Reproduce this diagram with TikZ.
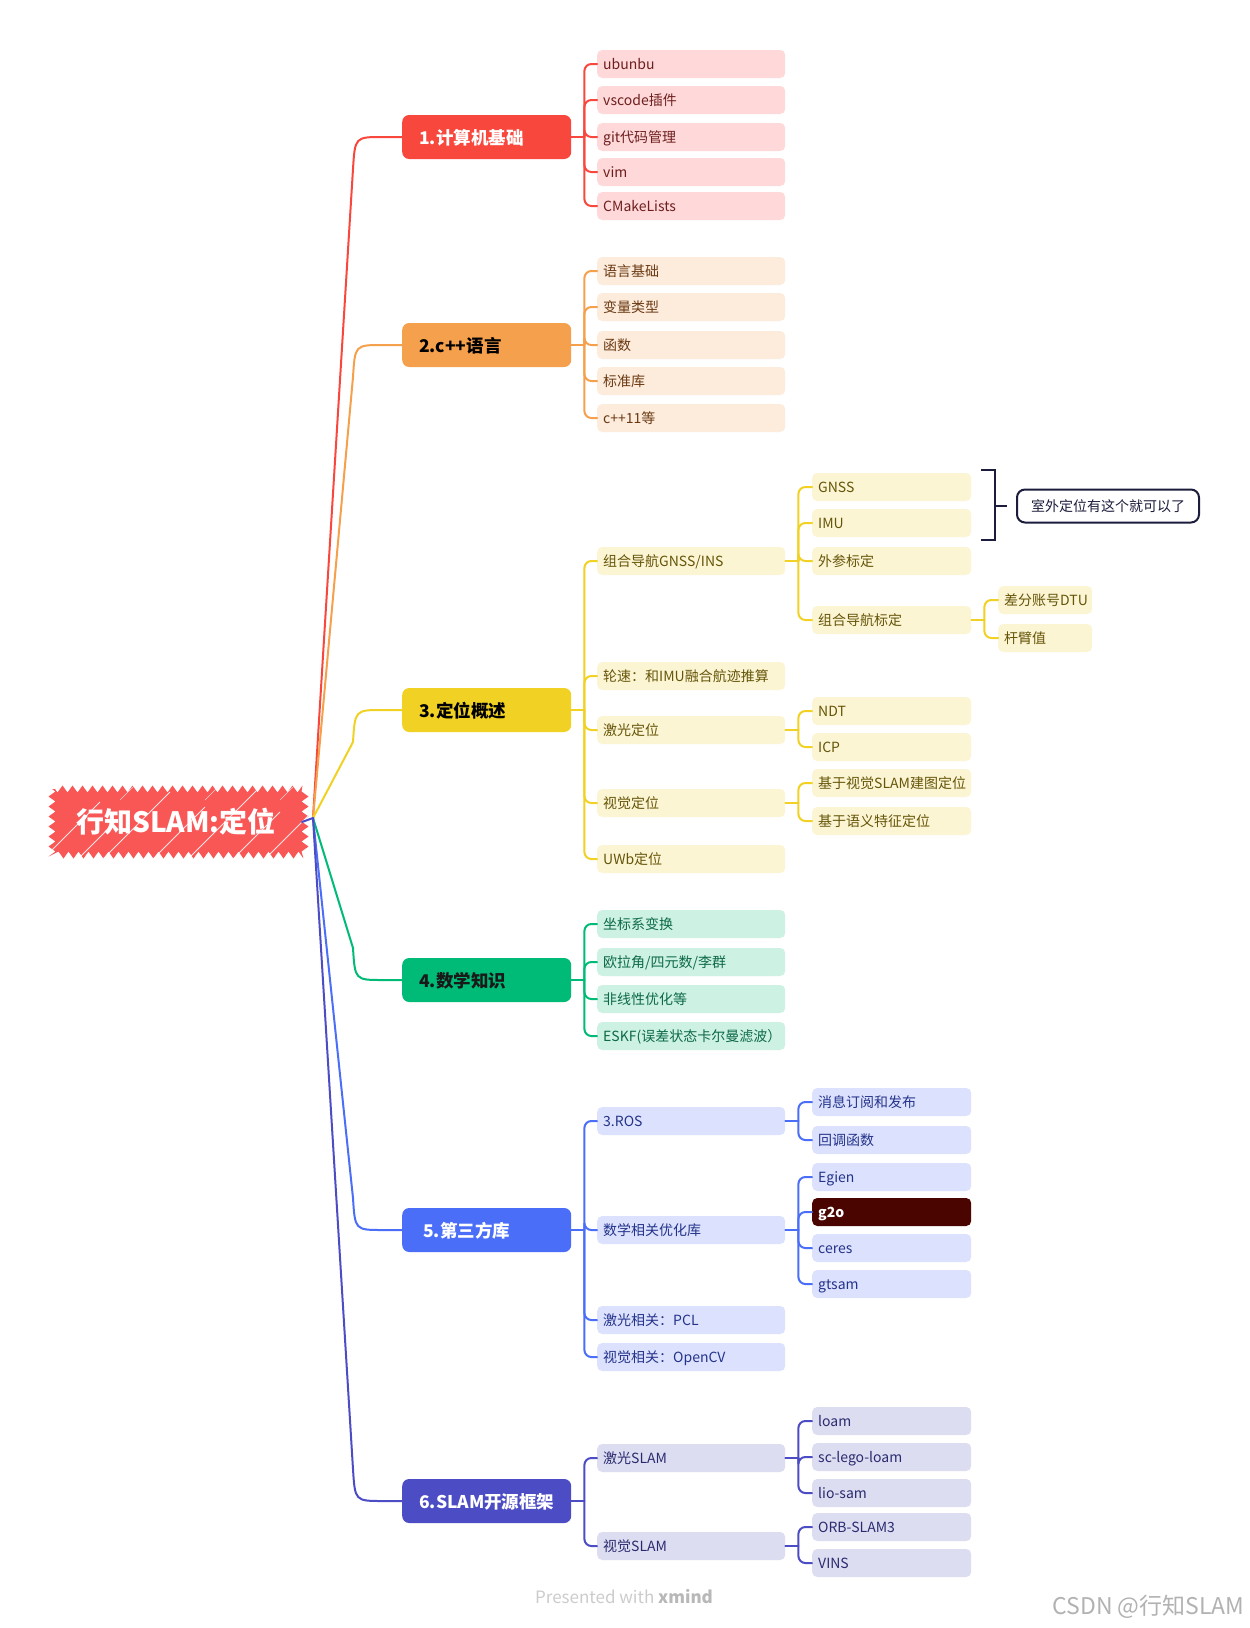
\documentclass[tikz,border=0pt]{standalone}
\usepackage{fontspec}
\setmainfont{Noto Sans CJK SC}
\usetikzlibrary{calc,decorations.pathmorphing}
\definecolor{cR}{HTML}{F8473C}\definecolor{fR}{HTML}{FFD9D9}\definecolor{tR}{HTML}{6E1E1E}
\definecolor{cO}{HTML}{F5A04C}\definecolor{fO}{HTML}{FDEBDC}\definecolor{tO}{HTML}{6A3A12}
\definecolor{cY}{HTML}{F1D224}\definecolor{fY}{HTML}{FCF5D4}\definecolor{tY}{HTML}{655508}
\definecolor{cG}{HTML}{00BA77}\definecolor{fG}{HTML}{CDF1E3}\definecolor{tG}{HTML}{0D6A47}
\definecolor{cB}{HTML}{4B6EF8}\definecolor{fB}{HTML}{DCE2FE}\definecolor{tB}{HTML}{24338A}
\definecolor{cI}{HTML}{4C4CC4}\definecolor{fI}{HTML}{DDDDF2}\definecolor{tI}{HTML}{2A2B6E}
\definecolor{navy}{HTML}{1C1C3C}\definecolor{rootred}{HTML}{F95656}
\definecolor{gmaroon}{HTML}{4A0500}
\newcommand\kidfont{\fontsize{14}{16}\selectfont}
\newcommand\brfont{\bfseries\fontsize{17.5}{20}\selectfont}
\tikzset{
  kid/.style={rounded corners=5, minimum height=28, inner xsep=6, inner ysep=0,
    anchor=west, align=left, text height=12, text depth=2, font=\kidfont},
  lone/.style={kid, text width=176},
  ltwo/.style={kid, text width=147},
  lthree/.style={kid, text width=82},
  br/.style={rounded corners=7, minimum height=44, inner xsep=17, inner ysep=0,
    anchor=west, text width=135, align=left, font=\brfont, text height=16, text depth=2},
  kR/.style={fill=fR, text=tR}, kO/.style={fill=fO, text=tO}, kY/.style={fill=fY, text=tY},
  kG/.style={fill=fG, text=tG}, kB/.style={fill=fB, text=tB}, kI/.style={fill=fI, text=tI},
  conn/.style={line width=2, line cap=round},
}
\newcommand\mainlink[3]{%
  \draw[conn,#1] (O) -- ($(#2.west)+(-49,#3)$) .. controls ($(#2.west)+(-47,0)$) .. ($(#2.west)+(-19,0)$) -- (#2.west);}
\newcommand\stem[2]{\draw[conn,#1] (#2.east) -- ++(13,0);}
\newcommand\sublink[3]{\draw[conn,#1,rounded corners=7] ($(#2.east)+(13,0)$) |- (#3.west);}
\begin{document}
\begin{tikzpicture}[x=1pt,y=-1pt]
\useasboundingbox (0,0) rectangle (1250,1628);
\fill[white] (0,0) rectangle (1250,1628);

% root
\fill[rootred, decorate, decoration={zigzag, segment length=10, amplitude=3.5}] (52,789) rectangle (305,855);
\begin{scope}
\clip (49,785) rectangle (309,859);
\foreach \x/\l in {40/60, 75/40, 100/70, 150/55, 185/75, 230/50, 262/70, 300/45, 330/60}
  \draw[white, line width=0.8, opacity=0.85] (\x,862) -- ++(\l,-\l);
\foreach \x/\l in {120/30, 205/35, 280/30}
  \draw[white, line width=0.6, opacity=0.7] (\x,800) -- ++(\l,-\l);
\end{scope}
\node[text=white, font=\bfseries\fontsize{28}{30}\selectfont] (root) at (176,822) {行知SLAM:定位};
\coordinate (O) at (313,818);

% main branches
\node[br, fill=cR, text=white] (b1) at (402,137) {1.计算机基础};
\node[br, fill=cO, text=black] (b2) at (402,345) {2.c++语言};
\node[br, fill=cY, text=black] (b3) at (402,710) {3.定位概述};
\node[br, fill=cG, text=black!90] (b4) at (402,980) {4.数学知识};
\node[br, fill=cB, text=white] (b5) at (402,1230) {\hspace{4pt}5.第三方库};
\node[br, fill=cI, text=white] (b6) at (402,1501) {6.SLAM开源框架};

\mainlink{cR}{b1}{32}
\mainlink{cO}{b2}{32}
\mainlink{cY}{b3}{32}
\mainlink{cG}{b4}{-32}
\mainlink{cB}{b5}{-32}
\mainlink{cI}{b6}{-32}
\draw[conn,cI] (root.east -| 302,818) -- (O);

% branch 1
\node[lone,kR] (r1) at (597,64) {ubunbu};
\node[lone,kR] (r2) at (597,100) {vscode插件};
\node[lone,kR] (r3) at (597,137) {git代码管理};
\node[lone,kR] (r4) at (597,172) {vim};
\node[lone,kR] (r5) at (597,206) {CMakeLists};
\stem{cR}{b1}
\foreach \n in {r1,r2,r3,r4,r5} {\sublink{cR}{b1}{\n}}

% branch 2
\node[lone,kO] (o1) at (597,271) {语言基础};
\node[lone,kO] (o2) at (597,307) {变量类型};
\node[lone,kO] (o3) at (597,345) {函数};
\node[lone,kO] (o4) at (597,381) {标准库};
\node[lone,kO] (o5) at (597,418) {c++11等};
\stem{cO}{b2}
\foreach \n in {o1,o2,o3,o4,o5} {\sublink{cO}{b2}{\n}}

% branch 3
\node[lone,kY] (y1) at (597,561) {组合导航GNSS/INS};
\node[lone,kY] (y2) at (597,676) {轮速：和IMU融合航迹推算};
\node[lone,kY] (y3) at (597,730) {激光定位};
\node[lone,kY] (y4) at (597,803) {视觉定位};
\node[lone,kY] (y5) at (597,859) {UWb定位};
\stem{cY}{b3}
\foreach \n in {y1,y2,y3,y4,y5} {\sublink{cY}{b3}{\n}}

\node[ltwo,kY] (y11) at (812,487) {GNSS};
\node[ltwo,kY] (y12) at (812,523) {IMU};
\node[ltwo,kY] (y13) at (812,561) {外参标定};
\node[ltwo,kY] (y14) at (812,620) {组合导航标定};
\stem{cY}{y1}
\foreach \n in {y11,y12,y13,y14} {\sublink{cY}{y1}{\n}}
\node[lthree,kY] (y141) at (998,600) {差分账号DTU};
\node[lthree,kY] (y142) at (998,638) {杆臂值};
\stem{cY}{y14}
\foreach \n in {y141,y142} {\sublink{cY}{y14}{\n}}

\node[ltwo,kY] (y31) at (812,711) {NDT};
\node[ltwo,kY] (y32) at (812,747) {ICP};
\stem{cY}{y3}
\foreach \n in {y31,y32} {\sublink{cY}{y3}{\n}}
\node[ltwo,kY] (y41) at (812,783) {基于视觉SLAM建图定位};
\node[ltwo,kY] (y42) at (812,821) {基于语义特征定位};
\stem{cY}{y4}
\foreach \n in {y41,y42} {\sublink{cY}{y4}{\n}}

% bracket + note
\node[draw=navy, line width=2, rounded corners=8, fill=white, minimum width=182, minimum height=33,
  inner sep=0, font=\kidfont, text=navy, text height=12, text depth=2] (note) at (1108,506) {室外定位有这个就可以了};
\coordinate (brk) at (995,506);
\draw[navy, line width=2] (981,470) -- (995,470) -- (995,540) -- (981,540);
\draw[navy, line width=2] (brk) -- ++(12,0);

% branch 4
\node[lone,kG] (g1) at (597,924) {坐标系变换};
\node[lone,kG] (g2) at (597,962) {欧拉角/四元数/李群};
\node[lone,kG] (g3) at (597,999) {非线性优化等};
\node[lone,kG] (g4) at (597,1036) {ESKF(误差状态卡尔曼滤波）};
\stem{cG}{b4}
\foreach \n in {g1,g2,g3,g4} {\sublink{cG}{b4}{\n}}

% branch 5
\node[lone,kB] (u1) at (597,1121) {3.ROS};
\node[lone,kB] (u2) at (597,1230) {数学相关优化库};
\node[lone,kB] (u3) at (597,1320) {激光相关：PCL};
\node[lone,kB] (u4) at (597,1357) {视觉相关：OpenCV};
\stem{cB}{b5}
\foreach \n in {u1,u2,u3,u4} {\sublink{cB}{b5}{\n}}
\node[ltwo,kB] (u11) at (812,1102) {消息订阅和发布};
\node[ltwo,kB] (u12) at (812,1140) {回调函数};
\stem{cB}{u1}
\foreach \n in {u11,u12} {\sublink{cB}{u1}{\n}}
\node[ltwo,kB] (u21) at (812,1177) {Egien};
\node[ltwo,fill=gmaroon,text=white,font=\bfseries\kidfont] (u22) at (812,1212) {g2o};
\node[ltwo,kB] (u23) at (812,1248) {ceres};
\node[ltwo,kB] (u24) at (812,1284) {gtsam};
\stem{cB}{u2}
\foreach \n in {u21,u22,u23,u24} {\sublink{cB}{u2}{\n}}

% branch 6
\node[lone,kI] (i1) at (597,1458) {激光SLAM};
\node[lone,kI] (i2) at (597,1546) {视觉SLAM};
\stem{cI}{b6}
\foreach \n in {i1,i2} {\sublink{cI}{b6}{\n}}
\node[ltwo,kI] (i11) at (812,1421) {loam};
\node[ltwo,kI] (i12) at (812,1457) {sc-lego-loam};
\node[ltwo,kI] (i13) at (812,1493) {lio-sam};
\stem{cI}{i1}
\foreach \n in {i11,i12,i13} {\sublink{cI}{i1}{\n}}
\node[ltwo,kI] (i21) at (812,1527) {ORB-SLAM3};
\node[ltwo,kI] (i22) at (812,1563) {VINS};
\stem{cI}{i2}
\foreach \n in {i21,i22} {\sublink{cI}{i2}{\n}}

% footer
\node[font=\fontsize{17}{20}\selectfont, text=black!20] (pw) at (624,1597) {Presented with \textbf{\color{black!28}xmind}};
\node[anchor=east, font=\fontsize{23}{26}\selectfont, text=black!30] (csdn) at (1248,1607) {CSDN @行知SLAM};
\end{tikzpicture}
\end{document}
